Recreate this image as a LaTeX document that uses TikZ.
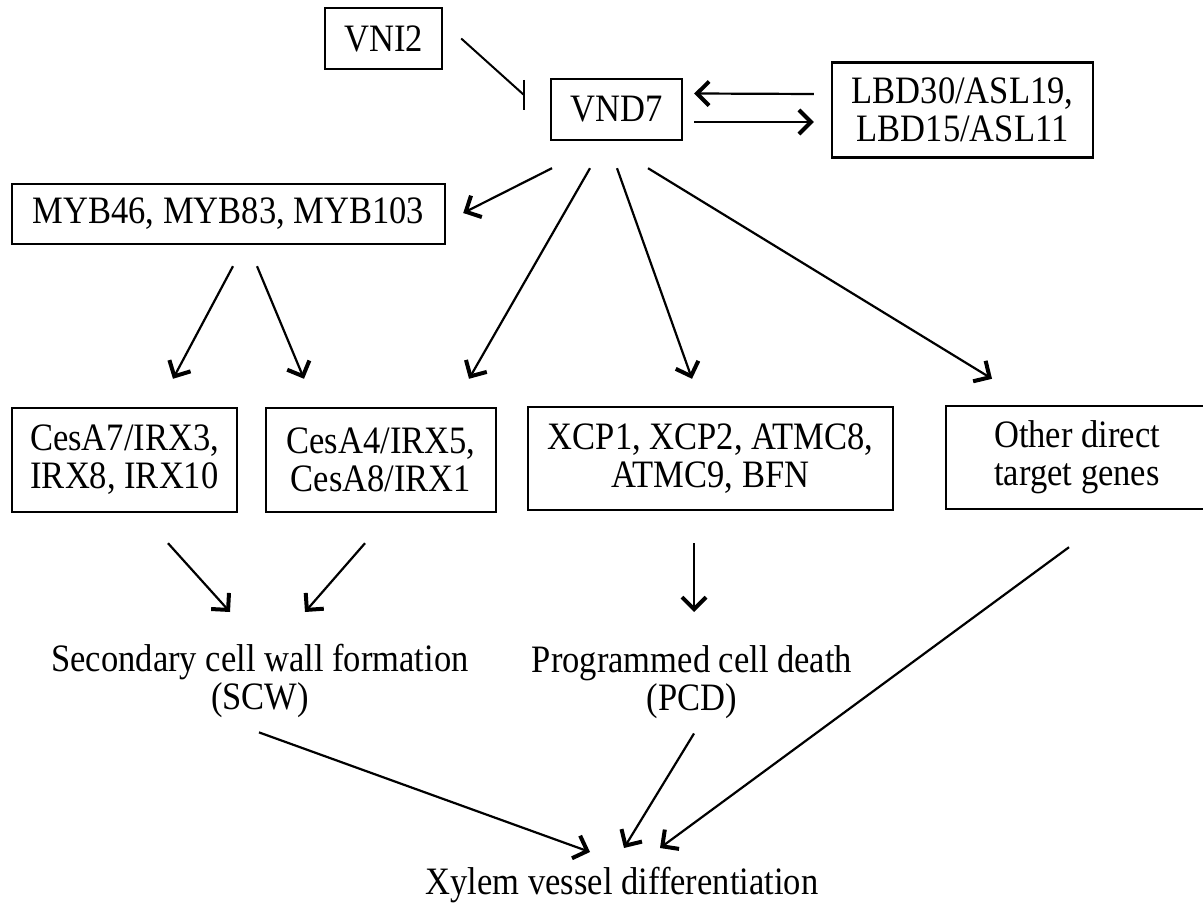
\documentclass[tikz,border=0pt]{standalone}
\usepackage{fontspec}
\setmainfont{Liberation Serif}[FakeStretch=0.89]
\usetikzlibrary{arrows.meta,calc}

\begin{document}
\begin{tikzpicture}[x=0.5pt, y=-0.5pt,
    every node/.style={font=\fontsize{19.4}{19}\selectfont},
    gene/.style={draw, line width=1.2pt, align=center, inner sep=0pt},
    label/.style={align=center, inner sep=0pt, anchor=north},
    arr/.style={line width=1.1pt, -{Straight Barb[length=6pt,width=12pt,line width=2pt]}}]
  \clip (0,0) rectangle (1203,903);
  % regulators of VND7
  \node[gene, minimum width=58.5pt, minimum height=30.5pt] (vni2) at (383.5,38.5) {VNI2};
  \node[gene, minimum width=65.5pt, minimum height=30.5pt] (vnd7) at (616.5,109.5) {VND7};
  \node[gene, minimum width=130.5pt, minimum height=47.5pt] (lbd) at (962.5,110) {LBD30/ASL19,\\LBD15/ASL11};
  \node[gene, minimum width=216.5pt, minimum height=30pt] (myb) at (228.5,214) {MYB46, MYB83, MYB103};
  % target genes
  \node[gene, minimum width=112.5pt, minimum height=52pt] (cesa) at (124.5,460) {CesA7/IRX3,\\IRX8, IRX10};
  \node[gene, minimum width=115pt, minimum height=52pt] (cesb) at (381,460) {CesA4/IRX5,\\CesA8/IRX1};
  \node[gene, minimum width=182.5pt, minimum height=51.5pt] (xcp) at (710.5,458.5) {XCP1, XCP2, ATMC8,\\ATMC9, BFN};
  \node[gene, minimum width=131pt, minimum height=51.5pt] (other) at (1077,457.5) {Other direct\\target genes};
  % processes
  \node[label] (scw) at (260,644) {Secondary cell wall formation\\(SCW)};
  \node[label] (pcd) at (692,645.5) {Programmed cell death\\(PCD)};
  \node[label] (xyl) at (622,866.5) {Xylem vessel differentiation};

  % VNI2 represses VND7
  \coordinate (bar) at (524,95);
  \draw[line width=1pt] ($(vni2.east)+(18,0)$) -- (bar);
  \draw[line width=1.2pt] ($(bar)+(0,-15)$) -- ($(bar)+(0,15)$);
  % feedback with LBDs
  \draw[arr] ($(lbd.west)+(-17,-16)$) -- ($(vnd7.east)+(11,-16)$);
  \draw[arr] ($(vnd7.east)+(11,12.5)$) -- ($(lbd.west)+(-17,12)$);
  % VND7 targets
  \draw[arr] ($(vnd7.south)+(-64.5,27)$) -- ($(myb.east)+(17,-1)$);
  \draw[arr] ($(vnd7.south)+(-26.5,27)$) -- ($(cesb.north)+(88,-28)$);
  \draw[arr] ($(vnd7.south)+(0.5,27)$) -- ($(xcp.north)+(-18.5,-27)$);
  \draw[arr] ($(vnd7.south)+(31.5,27)$) -- ($(other.north)+(-85,-26)$);
  \draw[arr] ($(myb.south)+(4.5,21)$) -- ($(cesa.north)+(48.5,-28)$);
  \draw[arr] ($(myb.south)+(28.5,21)$) -- ($(cesb.north)+(-77,-28)$);
  % genes to processes
  \draw[arr] ($(cesa.south)+(43.5,30)$) -- ($(scw.north)+(-30,-32)$);
  \draw[arr] ($(cesb.south)+(-16,30)$) -- ($(scw.north)+(45,-32)$);
  \draw[arr] ($(xcp.south)+(-16.5,32)$) -- ($(pcd.north)+(2,-33.5)$);
  % processes to differentiation
  \draw[arr] ($(scw.south)+(-1,14)$) -- ($(xyl.north)+(-32,-14.5)$);
  \draw[arr] ($(pcd.south)+(2,14)$) -- ($(xyl.north)+(2,-18.5)$);
  \draw[arr] ($(other.south)+(-8,37)$) -- ($(xyl.north)+(38,-18.5)$);
\end{tikzpicture}
\end{document}
